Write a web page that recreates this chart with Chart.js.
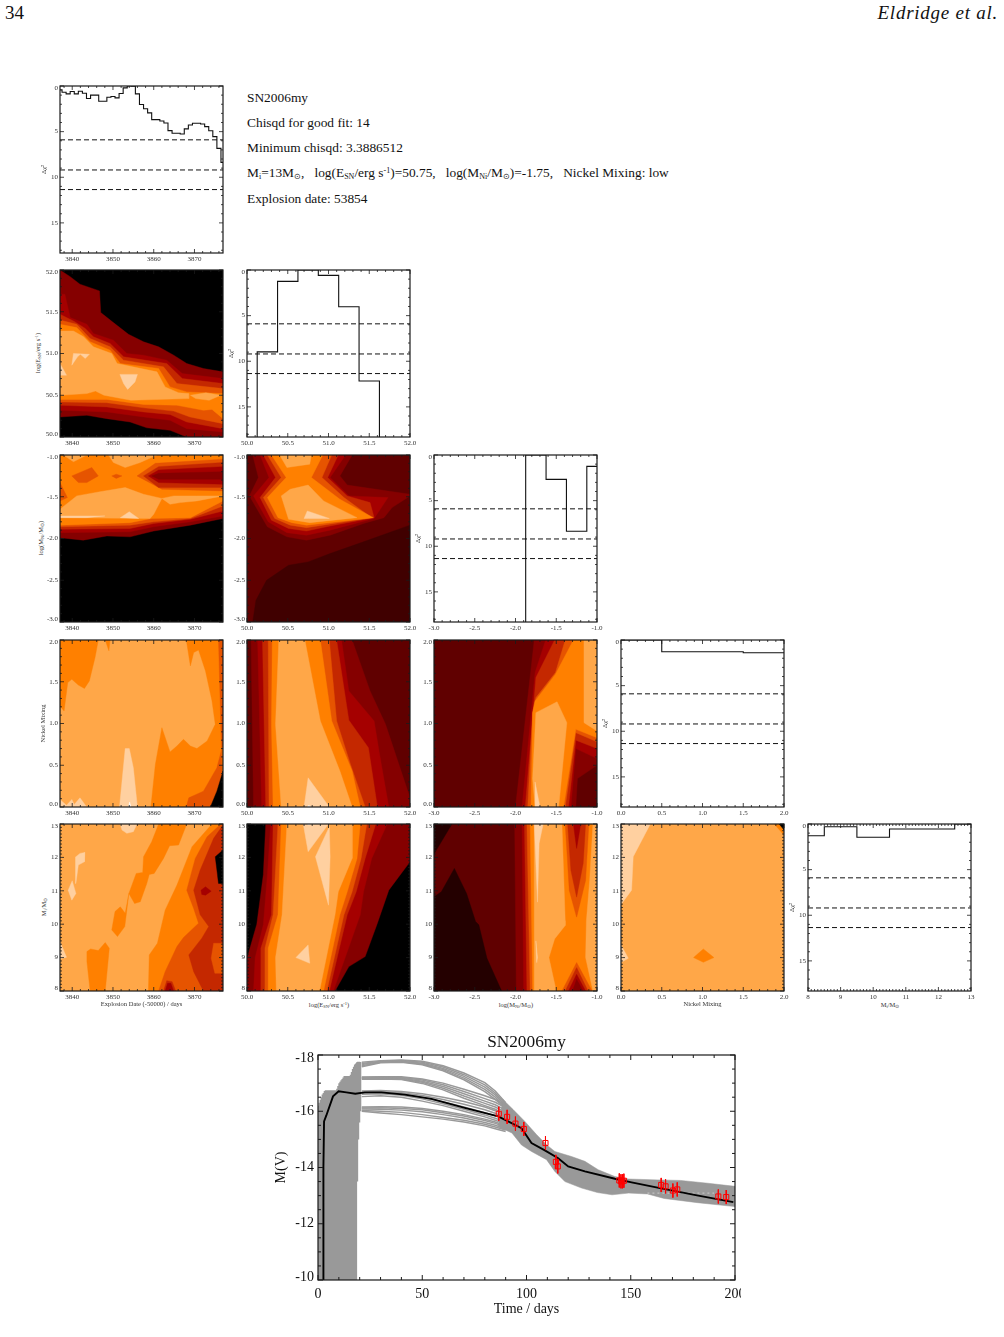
<!DOCTYPE html>
<html>
<head>
<meta charset="utf-8">
<title>SN2006my</title>
<script src="https://cdn.jsdelivr.net/npm/chart.js@4/dist/chart.umd.min.js"></script>
<style>
  html, body { margin: 0; padding: 0; background: #fff; }
  body { position: relative; width: 1004px; height: 1337px; overflow: hidden; font-family: "Liberation Serif", serif; color: #111; }
  canvas, .txt, .lab, .clipbox { position: absolute; }
  .txt { white-space: nowrap; font-size: 13.4px; line-height: 16px; }
  .txt sub { font-size: 8px; vertical-align: -2px; line-height: 0; }
  .txt sup { font-size: 8px; vertical-align: 4px; line-height: 0; }
  .lab { white-space: nowrap; font-size: 6.5px; line-height: 8px; color: #333; transform: translate(-50%, -50%); }
  .lab.rot { transform: translate(-50%, -50%) rotate(-90deg); }
  .lab sub { font-size: 4.5px; vertical-align: -1px; line-height: 0; }
  .lab sup { font-size: 4.5px; vertical-align: 2px; line-height: 0; }
  .clipbox { overflow: hidden; }
</style>
</head>
<body>
<div class="txt" style="left:5px;top:3px;font-size:19px;line-height:20px">34</div>
<div class="txt" style="right:6px;top:3px;font-size:19px;line-height:20px;font-style:italic;letter-spacing:0.75px">Eldridge et al.</div>
<div class="txt" style="left:247px;top:90px">SN2006my</div>
<div class="txt" style="left:247px;top:115px">Chisqd for good fit: 14</div>
<div class="txt" style="left:247px;top:140px">Minimum chisqd: 3.3886512</div>
<div class="txt" style="left:247px;top:165px">M<sub>i</sub>=13M<sub>⊙</sub>,&nbsp;&nbsp; log(E<sub>SN</sub>/erg s<sup>-1</sup>)=50.75,&nbsp;&nbsp; log(M<sub>Ni</sub>/M<sub>⊙</sub>)=-1.75,&nbsp;&nbsp; Nickel Mixing: low</div>
<div class="txt" style="left:247px;top:191px">Explosion date: 53854</div>

<div class="lab rot" style="left:38px;top:353px">log(E<sub>SN</sub>/erg s<sup>-1</sup>)</div>
<div class="lab rot" style="left:41px;top:538px">log(M<sub>Ni</sub>/M<sub>⊙</sub>)</div>
<div class="lab rot" style="left:44px;top:907px">M<sub>i</sub>/M<sub>⊙</sub></div>
<div class="lab" style="left:329px;top:1005px">log(E<sub>SN</sub>/erg s<sup>-1</sup>)</div>
<div class="lab" style="left:516px;top:1005px">log(M<sub>Ni</sub>/M<sub>⊙</sub>)</div>
<div class="lab" style="left:890px;top:1005px">M<sub>i</sub>/M<sub>⊙</sub></div>

<script>
// contour fill colours, dark to light
const levelColors = ['#000000', '#240000', '#400000', '#600000', '#850000', '#a50000', '#c42800', '#e65400', '#ff8000', '#ffa748', '#ffd0a0', '#ffffff'];

const dateTicks = [3840, 3850, 3860, 3870];
const energyTicks = [50, 50.5, 51, 51.5, 52];
const niTicks = [-3, -2.5, -2, -1.5, -1];
const mixTicks = [0, 0.5, 1, 1.5, 2];
const massTicks = [8, 9, 10, 11, 12, 13];
const chiTicks = [0, 5, 10, 15];
const chiLevels = [5.9, 9.2, 11.35];

// delta chi^2 histograms
const dateBins = [3837,3838,3839,3840,3841,3842,3843,3844,3845,3846,3847,3848,3849,3850,3851,3852,3853,3854,3855,3856,3857,3858,3859,3860,3861,3862,3863,3864,3865,3866,3867,3868,3869,3870,3871,3872,3873,3874,3875,3876,3877];
const dateChi = [0.42,0.68,0.86,0.6,0.86,0.57,0.79,1.37,1.0,1.0,1.67,1.67,1.23,1.15,1.3,0.82,0.2,0,0.02,0.86,2.03,2.5,2.95,3.68,3.68,3.83,4.05,4.89,5.18,5.18,5.26,4.7,4.27,4.08,4.08,4.16,4.45,4.9,5.55,6.83,8.37];
const energyBins = [50,50.25,50.5,50.75,51,51.25,51.5,51.75,52];
const energyChi = [30,8.97,1.25,0,0.59,4.03,12.16,30,30];
const niBins = [-3,-2.75,-2.5,-2.25,-2,-1.75,-1.5,-1.25,-1];
const niChi = [30,30,30,30,30,0,2.67,8.35,1.25];
const mixBins = [0,1,2];
const mixChi = [0,1.28,1.4];
const massBins = [8,9,10,11,12,13];
const massChi = [1.28,0.3,1.46,0.55,0.55,0];

// contour regions: [colour level, [x,y, x,y, ...]] painted in order
const dateEnergy = [
  [0,[3837,50,3877,50,3877,52,3837,52]],
  [4,[3837,52,3839.5,51.92,3841.9,51.83,3846.7,51.75,3847,51.49,3850.1,51.37,3853.8,51.23,3857.5,51.14,3861.2,51.08,3864.9,50.98,3868.1,50.88,3872.2,50.82,3877,50.78,3877,50,3868.1,50,3864,50.08,3858.3,50.11,3854.2,50.18,3848.5,50.22,3843.6,50.26,3837,50.24]],
  [5,[3837,51.71,3838.2,51.71,3839.5,51.43,3843.6,51.35,3845.2,51.24,3850.1,51.16,3853.4,51,3857.5,50.98,3863.2,50.92,3867,50.76,3877,50.7,3877,50.06,3868.1,50.1,3864,50.2,3857.5,50.24,3848.5,50.3,3837,50.32]],
  [6,[3837,51.47,3840.3,51.39,3843.2,51.3,3845.2,51.2,3849.3,51.12,3852.6,50.96,3863.2,50.88,3867,50.7,3877,50.64,3877,50.1,3868.1,50.18,3864,50.27,3857.5,50.3,3848.5,50.36,3837,50.38]],
  [7,[3837,51.4,3841.1,51.35,3844.4,51.18,3849.3,51.08,3852.6,50.92,3862.4,50.84,3865.7,50.64,3877,50.58,3877,50.16,3868.9,50.24,3864.9,50.31,3857.5,50.35,3848.5,50.41,3837,50.42]],
  [8,[3837,51.35,3841.1,51.31,3844.4,51.14,3849.3,51.04,3851.8,50.88,3861.2,50.82,3864,50.6,3868.1,50.54,3877,50.52,3877,50.22,3874.3,50.33,3872.2,50.32,3865.7,50.38,3857.5,50.39,3848.5,50.45,3837,50.45]],
  [9,[3837,51.27,3840.3,51.27,3842.8,51.2,3845.2,51.08,3849.7,51,3851,50.88,3860.8,50.78,3862.8,50.6,3866.1,50.53,3868.6,50.52,3868.6,50.46,3854.4,50.44,3847.8,50.5,3845.7,50.55,3843.6,50.52,3837,50.5]],
  [9,[3869,50.5,3872.8,50.53,3876.5,50.5,3873.6,50.44,3870.3,50.46]],
  [10,[3837,50.88,3838.6,50.74,3837,50.74]],
  [10,[3839.9,50.86,3840.3,51,3844.2,50.99,3843.2,50.94,3842,50.99,3841.3,50.96]],
  [10,[3851.7,50.75,3856,50.75,3855.4,50.66,3853.6,50.57,3852.6,50.64]],
];
const dateNi = [
  [0,[3837,-3,3877,-3,3877,-1,3837,-1]],
  [4,[3837,-1,3877,-1,3877,-1.76,3869,-1.84,3860,-1.91,3854.2,-1.98,3848.5,-1.97,3842.7,-2.02,3837,-1.99]],
  [5,[3837,-1,3877,-1,3877,-1.73,3869,-1.8,3860,-1.86,3854.2,-1.92,3837,-1.93]],
  [6,[3837,-1,3877,-1,3877,-1.67,3869,-1.77,3860,-1.82,3854.2,-1.88,3837,-1.89]],
  [7,[3837,-1,3877,-1,3877,-1.61,3869,-1.76,3860,-1.8,3854.2,-1.84,3837,-1.86]],
  [8,[3837,-1,3877,-1,3877,-1.55,3869,-1.75,3859.5,-1.76,3854.2,-1.81,3837,-1.84]],
  [7,[3855.9,-1.25,3860.4,-1.1,3877,-1.05,3877,-1.43,3862,-1.41]],
  [6,[3857.5,-1.25,3861.2,-1.14,3877,-1.09,3877,-1.39,3861.2,-1.39]],
  [5,[3858.7,-1.25,3861.2,-1.18,3877,-1.14,3877,-1.35,3861.2,-1.33]],
  [4,[3859.5,-1.25,3861.2,-1.22,3877,-1.2,3877,-1.29,3861.2,-1.29]],
  [9,[3848.9,-1,3850.1,-1.09,3853,-1.15,3856.7,-1.09,3860.8,-1]],
  [9,[3837.8,-1,3840.3,-1.08,3843.6,-1]],
  [9,[3837,-1.65,3841.1,-1.49,3846.8,-1.44,3853,-1.39,3857.5,-1.47,3862,-1.52,3864.9,-1.49,3870.6,-1.49,3877,-1.49,3870.6,-1.55,3866.5,-1.57,3864,-1.59,3862,-1.52,3860,-1.71,3859.1,-1.76,3837,-1.75]],
  [7,[3839.9,-1.25,3844.8,-1.15,3846.4,-1.25,3843.6,-1.33,3841.5,-1.33]],
  [7,[3849.7,-1.25,3850.8,-1.23,3852.2,-1.25,3850.8,-1.28]],
  [7,[3837,-1.33,3838.8,-1.51,3837,-1.55]],
  [10,[3837,-1.73,3848,-1.73,3843.5,-1.75,3837,-1.75]],
  [10,[3851.8,-1.75,3854,-1.68,3856.3,-1.76]],
];
const energyNi = [
  [3,[50,-3,52,-3,52,-1,50,-1]],
  [2,[50.07,-3,50.11,-2.74,50.24,-2.5,50.51,-2.32,50.75,-2.28,51.02,-2.18,51.43,-2.04,52,-1.84,52,-3]],
  [4,[50.07,-1,50.14,-1.27,50.03,-1.49,50.25,-1.86,50.49,-1.98,50.73,-2.02,51.02,-1.96,51.43,-1.82,51.68,-1.75,51.78,-1.63,52,-1.49,52,-1.47,51.23,-1.36,51.14,-1.25,51.29,-1]],
  [5,[50.16,-1,50.27,-1.27,50.08,-1.49,50.26,-1.8,50.49,-1.93,50.73,-1.96,51.02,-1.9,51.56,-1.76,51.73,-1.51,51.25,-1.49,51.02,-1.27,51.21,-1]],
  [6,[50.2,-1,50.35,-1.27,50.16,-1.51,50.3,-1.78,50.51,-1.88,50.73,-1.91,51.02,-1.85,51.56,-1.75,51.51,-1.57,51.23,-1.49,50.99,-1.27,51.12,-1]],
  [7,[50.25,-1,50.42,-1.27,50.2,-1.51,50.34,-1.76,50.53,-1.84,50.73,-1.87,51.53,-1.75,51.19,-1.51,50.92,-1.27,51.04,-1]],
  [8,[50.3,-1,50.48,-1.27,50.25,-1.51,50.38,-1.75,50.55,-1.81,50.73,-1.84,51.55,-1.75,51.14,-1.53,50.79,-1.27,50.93,-1]],
  [9,[50.4,-1,50.49,-1.15,50.77,-1.11,50.79,-1]],
  [9,[50.42,-1.49,50.53,-1.41,50.75,-1.36,50.94,-1.55,51.35,-1.75,50.77,-1.81,50.51,-1.77]],
  [10,[50.7,-1.76,50.74,-1.67,51.01,-1.76,50.75,-1.76]],
];
const dateMix = [
  [9,[3837,0,3877,0,3877,2,3837,2]],
  [8,[3837,2,3846.4,2,3845.6,1.79,3844.2,1.51,3843,1.42,3841.5,1.46,3839.9,1.53,3838.9,1.49,3838,1.15,3837,1.21]],
  [8,[3848.1,2,3849.3,2,3849,1.87]],
  [8,[3868,2,3869,1.69,3869.8,1.85,3871,1.88,3872.7,1.63,3874.3,1.27,3875.1,0.99,3873.1,0.79,3870.6,0.7,3869,0.73,3867.3,0.81,3865.7,0.73,3864,0.66,3862,0.95,3860.4,0.51,3859.3,0,3877,0,3877,2]],
  [7,[3875.9,2,3877,2,3877,0.75,3875.5,0.47,3872.2,0.19,3868.6,0.11,3868,0,3877,0]],
  [0,[3877,0.43,3877,0,3873.9,0,3875.5,0.19]],
  [10,[3851.6,0,3853,0.7,3854,0.7,3855,0.47,3856,0]],
  [10,[3837,0.09,3838.6,0.02,3839.9,0.09,3840.5,0.03,3841.9,0.11,3843.1,0.03,3843.6,0,3837,0]],
  [11,[3853.8,0,3854.1,0.06,3854.4,0]],
];
const energyMix = [
  [3,[50,0,52,0,52,2,50,2]],
  [4,[50.05,2,51.29,2,51.51,1.39,51.7,0.99,52,0.11,52,0,50.08,0]],
  [5,[50.13,2,51.16,2,51.25,1.39,51.56,1.03,51.62,0.67,51.74,0,50.18,0]],
  [6,[50.19,2,51.1,2,51.25,1.04,51.49,0.71,51.6,0,50.23,0]],
  [7,[50.26,2,51.01,2,51.1,1.03,51.27,0.51,51.45,0,50.27,0]],
  [8,[50.31,2,50.9,2,51.04,1.03,51.29,0.43,51.39,0,50.32,0,50.3,0.99]],
  [9,[50.39,2,50.71,2,50.9,1.03,51.14,0.43,51.29,0,50.42,0,50.35,0.99]],
  [10,[50.7,0,50.75,0.35,51.01,0]],
  [11,[50.74,0,50.76,0.02,50.78,0]],
];
const niMix = [
  [3,[-3,0,-1,0,-1,2,-3,2]],
  [4,[-1.77,2,-1,2,-1,0.5,-1.24,0.34,-1.26,0,-2,0]],
  [5,[-1.63,2,-1,2,-1,0.58,-1.26,0.7,-1.32,0,-1.92,0,-1.76,1.61]],
  [6,[-1.52,2,-1,2,-1,0.7,-1.26,0.8,-1.35,0,-1.88,0,-1.75,1.55]],
  [7,[-1.39,2,-1,2,-1,0.78,-1.26,0.89,-1.39,0,-1.85,0,-1.79,1.13,-1.75,1.31,-1.51,1.61]],
  [8,[-1.29,2,-1,2,-1,0.83,-1.26,0.93,-1.41,0,-1.81,0,-1.79,1.13,-1.76,1.27,-1.51,1.59]],
  [9,[-1.75,1.13,-1.49,1.26,-1.37,1.01,-1.47,0,-1.76,0,-1.79,0.34]],
  [9,[-1.16,2,-1,2,-1,0.91,-1.16,1.01]],
  [10,[-1.76,0.3,-1.7,0,-1.76,0]],
];
const dateMass = [
  [9,[3837,8,3877,8,3877,13,3837,13]],
  [8,[3861.2,13,3868.1,13,3866.1,12.37,3863.9,12.35,3862.4,11.97,3860.1,11.52,3858.9,11.49,3858.3,11.22,3856.7,10.67,3855.3,10.62,3853.9,10.92,3855.7,11.52,3857.3,11.55,3857.5,12.02,3859.5,12.47]],
  [8,[3849.7,9.83,3850.5,10.38,3851.8,10.52,3853,10.33,3853.9,10.92,3852.9,9.93,3851.1,9.63]],
  [8,[3843.6,9.18,3844.5,9.26,3846.4,9.21,3848.1,9.45,3849.1,9.28,3848.1,8,3844.4,8,3843.6,8.88]],
  [8,[3874.3,13,3869.4,12.32,3865.7,11.17,3862.8,10.42,3860.9,9.43,3858.9,9.08,3858.7,8,3877,8,3877,13]],
  [7,[3876.5,13,3873.1,12.62,3870.2,11.97,3868.1,11.02,3869.8,10.47,3871,10.03,3867.3,9.6,3865.7,9.33,3862.8,8.58,3861.2,8,3877,8,3877,13]],
  [6,[3877,12.97,3874.7,12.57,3871.4,11.62,3869.8,11.02,3871.4,10.28,3873.5,9.93,3871.8,9.58,3868.6,9.08,3869.8,8.58,3872.2,8,3877,8]],
  [6,[3862.4,8,3863.2,8.31,3864.5,8.28,3865.4,8]],
  [5,[3862.8,8,3863.4,8.23,3864.2,8.23,3864.9,8]],
  [7,[3874.7,9.43,3877,9.43,3877,8.53,3875,8.53,3874.1,8.98]],
  [5,[3871.6,11.02,3872.7,11.12,3874.1,10.99,3872.7,10.87,3871.8,10.89]],
  [0,[3877,12.22,3875.1,12.02,3875.9,11.22,3877,11.22]],
  [10,[3851.8,13,3855.9,13,3855,12.77,3853.4,12.72,3852.2,12.82]],
  [10,[3840.9,12.02,3841.9,12.12,3843.1,12.15,3843,11.87,3841.5,11.77,3840.9,11.22,3840.7,11.67]],
  [10,[3839,11.02,3840,11.3,3840.9,10.92,3839.9,10.72]],
  [10,[3837,9.48,3838.6,9.01,3837,8.96]],
];
const energyMass = [
  [0,[50,8,52,8,52,13,50,13]],
  [4,[50.23,13,52,13,52,11.87,51.74,11.02,51.6,10.03,51.45,9.03,51.25,8.73,51.08,8,50,8,50,8.97,50.12,10,50.2,11.48]],
  [5,[50.29,13,51.72,13,51.53,11.97,51.43,10.97,51.39,10.28,51.06,8,50.08,8,50.1,9,50.2,9.98,50.25,11.47]],
  [6,[50.32,13,51.58,13,51.45,11.97,51.34,10.97,51.23,10.28,51.01,8,50.16,8,50.17,9.28,50.3,10.28]],
  [7,[50.38,13,51.47,13,51.4,11.97,51.29,10.97,51.19,10.28,50.98,8,50.22,8,50.22,9.28,50.32,10.28]],
  [8,[50.42,13,51.39,13,51.35,11.97,51.23,10.97,51.14,10.28,50.94,8,50.26,8,50.26,9.28,50.38,10.28]],
  [9,[50.49,13,51.29,13,51.29,11.97,51.12,10.97,51.08,10.28,50.89,8,50.36,8,50.35,9,50.43,10.28]],
  [10,[50.69,13,51,13,50.75,12.17]],
  [10,[50.84,12.02,51.01,12.92,51.02,12.02,51,10.57]],
  [10,[50.6,9,50.75,9.38,50.77,8.83]],
  [11,[50.74,13,50.76,12.97,50.78,13]],
];
const niMass = [
  [3,[-3,8,-1,8,-1,13,-3,13]],
  [1,[-3,13,-2.78,13,-3,12.1]],
  [1,[-3,10.82,-2.91,10.97,-2.75,11.67,-2.6,10.92,-2.49,10.08,-2.45,9.98,-2.35,8.98,-2.17,8,-3,8]],
  [4,[-2.01,13,-1,13,-1,8,-1.99,8]],
  [5,[-1.92,13,-1,13,-1,8,-1.9,8]],
  [6,[-1.89,13,-1,13,-1,8,-1.86,8]],
  [7,[-1.86,13,-1,13,-1,8,-1.82,8]],
  [8,[-1.82,13,-1,13,-1,8,-1.79,8]],
  [9,[-1.77,13,-1.43,13,-1.39,10.11,-1.39,9.96,-1.52,9.56,-1.59,9,-1.5,8,-1.77,8]],
  [9,[-1.05,13,-1,13,-1,8,-1.05,8,-1.14,9,-1.13,10.11,-1.09,11.31]],
  [7,[-1.39,13,-1.34,11.01,-1.25,10.21,-1.14,11.31,-1.1,13]],
  [6,[-1.36,13,-1.32,11.61,-1.25,10.81,-1.17,11.82,-1.14,13]],
  [5,[-1.29,13,-1.25,12.27,-1.2,13]],
  [7,[-1.25,8.85,-1.43,8,-1.06,8]],
  [6,[-1.25,8.7,-1.39,8,-1.11,8]],
  [5,[-1.25,8.5,-1.35,8,-1.14,8]],
  [4,[-1.25,8.35,-1.3,8,-1.17,8]],
  [10,[-1.77,13,-1.66,13,-1.71,12.42,-1.73,10.66]],
  [10,[-1.75,9.5,-1.73,9,-1.74,8.85]],
];
const mixMass = [
  [9,[0,8,2,8,2,13,0,13]],
  [10,[0,13,0.36,13,0.15,12.02,0.13,11.02,0.01,10.62,0,10.62]],
  [10,[0,9.38,0.09,8.98,0.02,8.88,0,8.88]],
  [8,[0.89,9,1.01,9.26,1.14,9,1.01,8.86]],
  [8,[1.88,13,2,13,2,12.67]],
  [0,[1.94,13,2,13,2,12.82]],
];

// light curve: best fit, observations, model bundle
const fitDays = [2.4,2.6,2.9,4,7.2,9.9,13.6,17.9,22.4,30.4,41.6,54.4,70.4,86.4,91.2,97.6,102.4,108.8,115.2,120,128,142.4,150.4,166.4,182.4,199.2];
const fitMags = [-10,-14,-15.64,-15.85,-16.53,-16.71,-16.67,-16.62,-16.67,-16.67,-16.59,-16.44,-16.12,-15.82,-15.64,-15.4,-14.87,-14.61,-14.33,-14.04,-13.86,-13.6,-13.47,-13.23,-13,-12.77];
const obsDays = [86.7,90.7,94.7,98.7,109.1,114.1,115,144.5,145.3,146,146.7,164.6,166.7,170.2,172.3,192,195.8];
const obsMags = [-15.91,-15.8,-15.56,-15.37,-14.87,-14.2,-14.04,-13.54,-13.51,-13.51,-13.53,-13.38,-13.33,-13.18,-13.22,-12.97,-12.95];
const obsErrs = [0.25,0.25,0.25,0.25,0.25,0.25,0.25,0.25,0.25,0.25,0.25,0.25,0.25,0.25,0.25,0.25,0.25];

const riseDays = [0,0.5,1,1.5,2,2.5,3,3.5,4,4.5,5,5.5,6,6.5,7,7.5,8,8.5,9,9.5,10,10.5,11,11.5,12,12.5,13,13.5,14,14.5,15,15.5,16,16.5,17,17.5,18,18.5,19,19.5,20,20.5];
const riseFrom = [-10,-10,-10,-10,-10,-10,-10,-10,-10,-10,-10,-10,-10,-10,-10,-10,-10,-10,-10,-10,-10,-10,-10,-10,-10,-10,-10,-10,-10,-10,-10,-10,-10,-10,-10,-10,-10,-10,-13.5,-15,-15.6,-16];
const riseTo = [-16.2,-16.3,-16.4,-16.5,-16.6,-16.65,-16.72,-16.75,-16.75,-16.75,-16.75,-16.75,-16.75,-16.75,-16.75,-16.75,-16.75,-16.75,-16.8,-16.9,-17,-17.05,-17.1,-17.15,-17.2,-17.25,-17.25,-17.25,-17.25,-17.25,-17.25,-17.3,-17.4,-17.5,-17.58,-17.66,-17.7,-17.74,-17.76,-17.76,-17.76,-17.75];

const modelDays = [21,30,40,50,60,70,80,85,90];
const modelA1 = [-17.74,-17.8,-17.82,-17.78,-17.62,-17.36,-17.02,-16.72,-16.3];
const modelA2 = [-17.7,-17.78,-17.8,-17.74,-17.57,-17.3,-16.94,-16.65,-16.25];
const modelA3 = [-17.66,-17.76,-17.78,-17.71,-17.52,-17.24,-16.86,-16.58,-16.2];
const modelA4 = [-17.62,-17.74,-17.76,-17.68,-17.48,-17.18,-16.78,-16.5,-16.15];
const modelA5 = [-17.58,-17.72,-17.74,-17.65,-17.44,-17.12,-16.7,-16.42,-16.1];
const modelB1 = [-17.22,-17.23,-17.23,-17.15,-17,-16.78,-16.55,-16.42,-16.2];
const modelB2 = [-17.2,-17.21,-17.2,-17.11,-16.94,-16.7,-16.45,-16.32,-16.12];
const modelB3 = [-17.18,-17.19,-17.17,-17.07,-16.88,-16.62,-16.36,-16.23,-16.04];
const modelB4 = [-17.16,-17.17,-17.15,-17.03,-16.82,-16.54,-16.28,-16.15,-15.96];
const modelB5 = [-17.14,-17.15,-17.13,-16.99,-16.76,-16.46,-16.2,-16.07,-15.88];
const modelC1 = [-16.72,-16.74,-16.7,-16.62,-16.5,-16.35,-16.15,-16.02,-15.85];
const modelC2 = [-16.68,-16.7,-16.66,-16.56,-16.42,-16.25,-16.05,-15.93,-15.78];
const modelC3 = [-16.64,-16.66,-16.62,-16.5,-16.34,-16.15,-15.95,-15.84,-15.7];
const modelC4 = [-16.6,-16.62,-16.57,-16.44,-16.27,-16.07,-15.87,-15.75,-15.62];
const modelC5 = [-16.52,-16.55,-16.5,-16.36,-16.2,-16,-15.8,-15.68,-15.55];
const modelD1 = [-16.15,-16.16,-16.15,-16.1,-16,-15.88,-15.72,-15.62,-15.48];
const modelD2 = [-16.12,-16.12,-16.1,-16.05,-15.95,-15.83,-15.67,-15.57,-15.44];
const modelD3 = [-16.08,-16.07,-16.04,-15.98,-15.88,-15.76,-15.6,-15.5,-15.38];
const modelD4 = [-16.03,-16,-15.96,-15.88,-15.78,-15.68,-15.54,-15.44,-15.33];
const modelD5 = [-16,-15.94,-15.88,-15.8,-15.72,-15.62,-15.48,-15.38,-15.28];

// the bundle after about day 88, where single curves can't be told apart
const tailUpperDays = [88.8,93.6,99.2,104.8,109.6,113.6,121.6,128,134.4,142.4,149,163,174,187,200];
const tailUpperMags = [-16.41,-16.06,-15.64,-15.17,-14.81,-14.57,-14.39,-14.22,-13.92,-13.68,-13.59,-13.56,-13.54,-13.44,-13.33];
const tailLowerDays = [86.4,93,97.6,102.4,109.6,113.6,118.4,126.4,134,141,149,158,166,182,200];
const tailLowerMags = [-15.45,-15.23,-14.8,-14.57,-14.28,-13.86,-13.5,-13.27,-13.11,-13.03,-13.09,-13.06,-12.9,-12.75,-12.61];
const tailGapDays = [158,190];
const tailGapMags = [-13.09,-13.09];

const axes = {
  date: { min: 3837, max: 3877, ticks: dateTicks, dec: 0, minor: 2 },
  energy: { min: 50, max: 52, ticks: energyTicks, dec: 1, minor: 0.1 },
  ni: { min: -3, max: -1, ticks: niTicks, dec: 1, minor: 0.1 },
  mix: { min: 0, max: 2, ticks: mixTicks, dec: 1, minor: 0.1 },
  mass: { min: 8, max: 13, ticks: massTicks, dec: 0, minor: 0.1 },
  chi: { min: 0, max: 18.3, ticks: chiTicks, dec: 0, minor: 1, reverse: true },
};

const inkFont = '"Liberation Serif", serif';

// closed frame, inward ticks on all four sides, y labels kept inside the frame
const frameTicks = {
  id: 'frameTicks',
  afterDatasetsDraw(chart, args, o) {
    const { ctx, chartArea: a, scales: { x, y } } = chart;
    ctx.save();
    ctx.strokeStyle = '#1a1a1a';
    ctx.lineWidth = o.tickWidth;
    const stepTicks = (s, step, cb) => {
      for (let k = Math.ceil(s.min / step - 1e-6); k * step <= s.max + 1e-6; k++) cb(k * step);
    };
    const isMajor = (list, v) => list.some(t => Math.abs(t - v) < 1e-6);
    stepTicks(x, o.xMinor, v => {
      const px = x.getPixelForValue(v), len = isMajor(o.xTicks, v) ? o.major : o.minor;
      ctx.beginPath();
      ctx.moveTo(px, a.bottom); ctx.lineTo(px, a.bottom - len);
      ctx.moveTo(px, a.top); ctx.lineTo(px, a.top + len);
      ctx.stroke();
    });
    stepTicks(y, o.yMinor, v => {
      const py = y.getPixelForValue(v), len = isMajor(o.yTicks, v) ? o.major : o.minor;
      ctx.beginPath();
      ctx.moveTo(a.left, py); ctx.lineTo(a.left + len, py);
      ctx.moveTo(a.right, py); ctx.lineTo(a.right - len, py);
      ctx.stroke();
    });
    ctx.lineWidth = o.frameWidth;
    ctx.strokeRect(a.left, a.top, a.right - a.left, a.bottom - a.top);
    ctx.fillStyle = o.labelColor;
    ctx.font = o.labelSize + 'px ' + inkFont;
    ctx.textAlign = 'right';
    ctx.textBaseline = 'middle';
    o.yTicks.forEach(v => {
      let py = y.getPixelForValue(v);
      if (py - a.top < 2) py += o.edgeShift;
      else if (a.bottom - py < 2) py -= o.edgeShift;
      ctx.fillText(v.toFixed(o.yDec), a.left - o.labelGap, py);
    });
    ctx.restore();
  }
};

function pairs(xs, ys) {
  return xs.map((v, i) => ({ x: v, y: ys[i] }));
}

// Chart.js paints dataset 0 last, so lists written bottom-up get a falling order
function paintOrder(sets) {
  sets.forEach((s, i) => { s.order = sets.length - i; });
  return sets;
}

function contourSets(regions) {
  return paintOrder(regions.map(([level, flat]) => {
    const pts = [];
    for (let i = 0; i < flat.length; i += 2) pts.push({ x: flat[i], y: flat[i + 1] });
    pts.push(pts[0]);
    const c = levelColors[level];
    return { data: pts, showLine: true, fill: 'shape', backgroundColor: c, borderColor: c, borderWidth: 0.4, pointRadius: 0 };
  }));
}

function histSets(bins, chi, xAxis) {
  const sets = chiLevels.map(v => ({
    data: [{ x: xAxis.min, y: v }, { x: xAxis.max, y: v }],
    showLine: true, borderColor: '#111', borderWidth: 1, borderDash: [5, 3], pointRadius: 0
  }));
  sets.push({ data: pairs(bins, chi), showLine: true, stepped: 'middle', borderColor: '#111', borderWidth: 1.1, pointRadius: 0 });
  return paintOrder(sets);
}

function tickBuilder(list) {
  return s => { s.ticks = list.map(v => ({ value: v })); };
}

function baseOptions(xA, yA, m, extra) {
  return {
    responsive: false,
    animation: false,
    events: [],
    layout: { padding: { top: m.top, right: m.right, left: 0, bottom: 0 } },
    plugins: Object.assign({
      legend: { display: false },
      tooltip: { enabled: false },
      title: { display: false },
      frameTicks: extra.frame
    }, extra.plugins || {}),
    scales: {
      x: {
        type: 'linear', min: xA.min, max: xA.max,
        grid: { display: false, drawTicks: false },
        border: { display: false },
        afterBuildTicks: tickBuilder(xA.ticks),
        afterFit: s => { s.height = m.bottom; },
        ticks: { autoSkip: false, maxRotation: 0, padding: extra.xPad, color: extra.labelColor, font: { family: inkFont, size: extra.size }, callback: v => v.toFixed(xA.dec) },
        title: extra.xTitle || { display: false }
      },
      y: {
        type: 'linear', min: yA.min, max: yA.max, reverse: !!yA.reverse,
        grid: { display: false, drawTicks: false },
        border: { display: false },
        afterFit: s => { s.width = m.left; },
        ticks: { display: false },
        title: extra.yTitle || { display: false }
      }
    }
  };
}

function addCanvas(parent, left, top, w, h) {
  const c = document.createElement('canvas');
  c.width = w; c.height = h;
  c.style.left = left + 'px'; c.style.top = top + 'px';
  c.style.width = w + 'px'; c.style.height = h + 'px';
  parent.appendChild(c);
  return c;
}

const colLeft = [60, 247, 434, 621, 808];
const rowTop = [86, 270, 455, 640, 824];
const frameW = 163, frameH = 167;
const margin = { left: 30, right: 9, top: 6, bottom: 24 };

function panel(col, row, xName, yName, datasets, xTitleText, yTitleText, yTitlePad) {
  const xA = axes[xName], yA = axes[yName];
  const canvas = addCanvas(document.body, colLeft[col] - margin.left, rowTop[row] - margin.top, frameW + margin.left + margin.right, frameH + margin.top + margin.bottom);
  const small = { family: inkFont, size: 6.5 };
  new Chart(canvas, {
    type: 'scatter',
    data: { datasets },
    options: baseOptions(xA, yA, margin, {
      xPad: 2, size: 7, labelColor: '#333',
      frame: { xTicks: xA.ticks, yTicks: yA.ticks, xMinor: xA.minor, yMinor: yA.minor, yDec: yA.dec, major: 4, minor: 2, tickWidth: 0.8, frameWidth: 1.2, labelSize: 7, labelColor: '#333', labelGap: 2, edgeShift: 2.5 },
      xTitle: xTitleText ? { display: true, text: xTitleText, color: '#333', font: small, padding: { top: 0, bottom: 7 } } : null,
      yTitle: yTitleText ? { display: true, text: yTitleText, color: '#333', font: small, padding: { top: yTitlePad, bottom: 0 } } : null
    }),
    plugins: [frameTicks]
  });
}

panel(0, 0, 'date', 'chi', histSets(dateBins, dateChi, axes.date), null, 'Δχ²', 10);
panel(0, 1, 'date', 'energy', contourSets(dateEnergy));
panel(1, 1, 'energy', 'chi', histSets(energyBins, energyChi, axes.energy), null, 'Δχ²', 10);
panel(0, 2, 'date', 'ni', contourSets(dateNi));
panel(1, 2, 'energy', 'ni', contourSets(energyNi));
panel(2, 2, 'ni', 'chi', histSets(niBins, niChi, axes.ni), null, 'Δχ²', 10);
panel(0, 3, 'date', 'mix', contourSets(dateMix), null, 'Nickel Mixing', 9);
panel(1, 3, 'energy', 'mix', contourSets(energyMix));
panel(2, 3, 'ni', 'mix', contourSets(niMix));
panel(3, 3, 'mix', 'chi', histSets(mixBins, mixChi, axes.mix), null, 'Δχ²', 10);
panel(0, 4, 'date', 'mass', contourSets(dateMass), 'Explosion Date (-50000) / days');
panel(1, 4, 'energy', 'mass', contourSets(energyMass));
panel(2, 4, 'ni', 'mass', contourSets(niMass));
panel(3, 4, 'mix', 'mass', contourSets(mixMass), 'Nickel Mixing');
panel(4, 4, 'mass', 'chi', histSets(massBins, massChi, axes.mass), null, 'Δχ²', 10);

// light curve panel
const lcX = { min: 0, max: 200, ticks: [0, 50, 100, 150, 200], dec: 0, minor: 10 };
const lcY = { min: -18, max: -10, ticks: [-18, -16, -14, -12, -10], dec: 0, minor: 0.5, reverse: true };
const lcMargin = { left: 58, right: 57, top: 0, bottom: 40 };

const gray = '#999999';
// gaps keep a valid x: a NaN x upsets the sorted-data lookup and drops the first segments
const riseLine = riseDays.flatMap((t, i) => [{ x: t, y: riseFrom[i] }, { x: t, y: riseTo[i] }, { x: t, y: NaN }]);
const tailPoly = pairs(tailUpperDays, tailUpperMags).concat(pairs(tailLowerDays, tailLowerMags).reverse());
tailPoly.push(tailPoly[0]);
const bundle = [modelA1, modelA2, modelA3, modelA4, modelA5, modelB1, modelB2, modelB3, modelB4, modelB5, modelC1, modelC2, modelC3, modelC4, modelC5, modelD1, modelD2, modelD3, modelD4, modelD5];
const errLine = obsDays.flatMap((t, i) => [{ x: t, y: obsMags[i] - obsErrs[i] }, { x: t, y: obsMags[i] + obsErrs[i] }, { x: t, y: NaN }]);

const lcSets = paintOrder([
  { data: riseLine, showLine: true, borderColor: gray, borderWidth: 1.1, pointRadius: 0 },
  ...bundle.map(m => ({ data: pairs(modelDays, m), showLine: true, borderColor: gray, borderWidth: 1.5, pointRadius: 0 })),
  { data: tailPoly, showLine: true, fill: 'shape', backgroundColor: gray, borderColor: gray, borderWidth: 0.5, pointRadius: 0 },
  { data: pairs(tailGapDays, tailGapMags), showLine: true, borderColor: '#ffffff', borderWidth: 0.5, borderDash: [2, 3], pointRadius: 0 },
  { data: pairs(fitDays, fitMags), showLine: true, borderColor: '#000', borderWidth: 1.9, pointRadius: 0 },
  { data: errLine, showLine: true, borderColor: '#ff0000', borderWidth: 1, pointRadius: 0 },
  { data: pairs(obsDays, obsMags), showLine: false, pointStyle: 'rect', pointRadius: 3.6, pointBorderWidth: 1, pointBorderColor: '#ff0000', pointBackgroundColor: 'rgba(0,0,0,0)' },
]);

const clip = document.createElement('div');
clip.className = 'clipbox';
clip.style.cssText = 'left:260px;top:1030px;width:481px;height:300px';
document.body.appendChild(clip);
const lcCanvas = addCanvas(clip, 0, 0, 58 + 417 + 57, 25 + 225 + 40);
const lcFont = { family: inkFont, size: 14 };
new Chart(lcCanvas, {
  type: 'scatter',
  data: { datasets: lcSets },
  options: baseOptions(lcX, lcY, lcMargin, {
    xPad: 6, size: 14, labelColor: '#111',
    frame: { xTicks: lcX.ticks, yTicks: lcY.ticks, xMinor: lcX.minor, yMinor: lcY.minor, yDec: 0, major: 5, minor: 3, tickWidth: 1, frameWidth: 1.2, labelSize: 14, labelColor: '#111', labelGap: 4, edgeShift: 3 },
    xTitle: { display: true, text: 'Time / days', color: '#111', font: lcFont, padding: { top: 0, bottom: 2.6 } },
    yTitle: { display: true, text: 'M(V)', color: '#111', font: lcFont, padding: { top: 13, bottom: 0 } },
    plugins: { title: { display: true, fullSize: false, text: 'SN2006my', color: '#111', font: { family: inkFont, size: 17.3, weight: 'normal' }, padding: { top: 2, bottom: 2.24 } } }
  }),
  plugins: [frameTicks]
});
</script>
</body>
</html>
